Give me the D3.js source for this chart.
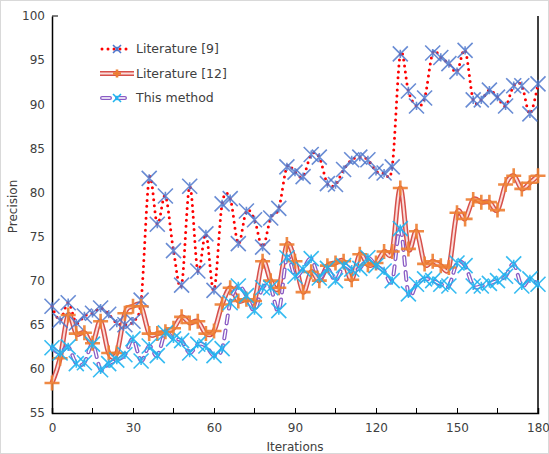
<!DOCTYPE html>
<html>
<head>
<meta charset="utf-8">
<script src="https://cdn.jsdelivr.net/npm/d3@7"></script>
<style>
  body { margin: 0; background: #fff; }
  text { font-family: "DejaVu Sans", Verdana, sans-serif; fill: #404040; }
</style>
</head>
<body>
<div id="chart"></div>
<script>
var svgWidth = 549;
var svgHeight = 454;

var margin = { top: 16, right: 11, bottom: 41, left: 52 };
var width = svgWidth - margin.left - margin.right;
var height = svgHeight - margin.top - margin.bottom;

// data
var iterations = [0, 3, 6, 9, 12, 15, 18, 21, 24, 27, 30, 33, 36, 39, 42, 45, 48, 51, 54, 57,
  60, 63, 66, 69, 72, 75, 78, 81, 84, 87, 90, 93, 96, 99, 102, 105, 108, 111, 114, 117,
  120, 123, 126, 129, 132, 135, 138, 141, 144, 147, 150, 153, 156, 159, 162, 165, 168, 171, 174, 177, 180];

var literature9 = [67.1, 65.5, 67.5, 65.2, 66.0, 66.3, 66.9, 66.2, 65.2, 65.0,
  65.4, 67.8, 81.6, 76.4, 79.6, 73.4, 69.5, 80.7, 71.1, 75.3,
  68.9, 78.7, 79.3, 74.2, 77.9, 76.9, 73.8, 77.1, 78.2, 82.9,
  82.3, 81.8, 84.3, 84.0, 81.0, 80.9, 82.6, 83.7, 84.0, 83.7,
  82.4, 82.2, 82.9, 95.7, 91.5, 89.8, 90.7, 95.8, 95.3, 94.6,
  93.7, 96.1, 90.5, 90.5, 91.6, 90.8, 89.8, 92.1, 92.1, 88.9, 92.3];

var literature12 = [58.4, 61.2, 66.1, 64.0, 64.1, 62.9, 65.4, 61.8, 61.8, 66.3,
  67.1, 67.1, 64.0, 64.0, 64.2, 64.6, 65.9, 65.2, 65.4, 64.0,
  64.3, 67.3, 69.2, 67.7, 67.9, 67.7, 72.2, 70.0, 69.2, 74.1,
  72.2, 68.7, 71.0, 70.0, 71.7, 72.0, 72.2, 70.1, 73.0, 71.8,
  72.0, 73.3, 73.3, 80.5, 73.6, 75.6, 71.9, 72.2, 71.7, 71.5,
  77.7, 77.0, 79.2, 78.9, 78.9, 78.0, 80.9, 81.9, 80.4, 81.1, 81.9];

var thisMethod = [62.4, 61.8, 62.5, 60.6, 60.7, 62.8, 59.9, 60.6, 61.0, 61.6,
  63.4, 60.9, 62.6, 61.5, 64.1, 63.4, 63.2, 61.8, 62.8, 62.6,
  61.5, 62.3, 67.5, 69.4, 68.3, 66.6, 69.2, 69.2, 66.6, 72.6,
  70.5, 71.3, 72.5, 70.3, 71.4, 70.0, 71.7, 71.3, 71.4, 72.6,
  71.7, 71.1, 70.0, 75.9, 68.5, 69.6, 70.2, 70.0, 69.6, 69.4,
  72.0, 71.7, 69.4, 69.4, 69.7, 70.0, 70.5, 71.9, 69.4, 70.2, 69.6];

var xTicks = [0, 30, 60, 90, 120, 150, 180];
var xMinorTicks = [15, 45, 75, 105, 135, 165];
var yTicks = [55, 60, 65, 70, 75, 80, 85, 90, 95, 100];
var seriesNames = ["Literature [9]", "Literature [12]", "This method"];

var svg = d3.select("#chart")
  .append("svg")
  .attr("width", svgWidth)
  .attr("height", svgHeight);

// chart area border
svg.append("rect")
  .attr("x", 0.5).attr("y", 0.5)
  .attr("width", svgWidth - 1).attr("height", svgHeight - 1)
  .attr("fill", "#fff")
  .attr("stroke", "#d9d9d9");

var chartGroup = svg.append("g")
  .attr("transform", `translate(${margin.left}, ${margin.top})`);

var xScale = d3.scaleLinear().domain([0, 180]).range([0, width]);
var yScale = d3.scaleLinear().domain([55, 100]).range([height, 0]);

// axes
var bottomAxis = d3.axisBottom(xScale).tickValues(xTicks).tickSize(-5).tickPadding(10);
var leftAxis = d3.axisLeft(yScale).tickValues(yTicks).tickSize(0).tickPadding(7);

var xAxisG = chartGroup.append("g")
  .attr("transform", `translate(0, ${height})`)
  .call(bottomAxis);
xAxisG.selectAll(".tick").filter(d => d === 0 || d === 180).select("line").remove();
chartGroup.append("g")
  .attr("transform", `translate(0, ${height})`)
  .selectAll("line")
  .data(xMinorTicks)
  .enter()
  .append("line")
  .attr("x1", d => xScale(d)).attr("x2", d => xScale(d))
  .attr("y1", 0).attr("y2", -5)
  .attr("stroke", "#000");

var yAxisG = chartGroup.append("g").call(leftAxis);

[xAxisG, yAxisG].forEach(function(g) {
  g.select(".domain").attr("stroke", "#000").attr("stroke-width", 1.5);
  g.selectAll("text").attr("font-size", 12).attr("fill", "#404040")
    .attr("font-family", "DejaVu Sans, Verdana, sans-serif");
  g.selectAll(".tick line").attr("stroke", "#000");
});

// top tick at 100 and right border
chartGroup.append("line")
  .attr("x1", 0).attr("x2", 6)
  .attr("y1", yScale(100)).attr("y2", yScale(100))
  .attr("stroke", "#000");
chartGroup.append("line")
  .attr("x1", width).attr("x2", width)
  .attr("y1", yScale(100)).attr("y2", height)
  .attr("stroke", "#000").attr("stroke-width", 1.5);

// axis titles
chartGroup.append("text")
  .attr("transform", "rotate(-90)")
  .attr("x", -(height / 2) + 8)
  .attr("y", -35)
  .attr("text-anchor", "middle")
  .attr("font-size", 12)
  .text("Precision");

chartGroup.append("text")
  .attr("x", width / 2)
  .attr("y", height + 38)
  .attr("text-anchor", "middle")
  .attr("font-size", 12)
  .text("Iterations");

// lines
var line = d3.line()
  .x((d, i) => xScale(iterations[i]))
  .y(d => yScale(d))
  .curve(d3.curveCardinal.tension(0));

function starPath(s) {
  return `M${-s},${-s}L${s},${s}M${-s},${s}L${s},${-s}M0,${-s * 0.55}L0,${s * 0.55}`;
}
function plusPath(s) {
  return `M${-s},0L${s},0M0,${-s}L0,${s}`;
}

// Literature [9]
chartGroup.append("path")
  .attr("d", line(literature9))
  .attr("fill", "none")
  .attr("stroke", "#ff0000")
  .attr("stroke-width", 3)
  .attr("stroke-linecap", "round")
  .attr("stroke-dasharray", "0 6");

// Literature [12]
chartGroup.append("path")
  .attr("d", line(literature12))
  .attr("fill", "none")
  .attr("stroke", "#d6504b")
  .attr("stroke-width", 5);
chartGroup.append("path")
  .attr("d", line(literature12))
  .attr("fill", "none")
  .attr("stroke", "#fadcda")
  .attr("stroke-width", 2);

// This method
chartGroup.append("path")
  .attr("d", line(thisMethod))
  .attr("fill", "none")
  .attr("stroke", "#8a5cc4")
  .attr("stroke-width", 4)
  .attr("stroke-linecap", "round")
  .attr("stroke-dasharray", "8 7");
chartGroup.append("path")
  .attr("d", line(thisMethod))
  .attr("fill", "none")
  .attr("stroke", "#fff")
  .attr("stroke-width", 1.4)
  .attr("stroke-linecap", "round")
  .attr("stroke-dasharray", "8 7");

// markers
chartGroup.append("g").selectAll("path")
  .data(literature9)
  .enter()
  .append("path")
  .attr("transform", (d, i) => `translate(${xScale(iterations[i])}, ${yScale(d)})`)
  .attr("d", starPath(7.5))
  .attr("fill", "none")
  .attr("stroke", "#4f78cc")
  .attr("stroke-opacity", 0.85)
  .attr("stroke-width", 1.6);

chartGroup.append("g").selectAll("path")
  .data(literature12)
  .enter()
  .append("path")
  .attr("transform", (d, i) => `translate(${xScale(iterations[i])}, ${yScale(d)})`)
  .attr("d", plusPath(7.5))
  .attr("fill", "none")
  .attr("stroke", "#ed7d31")
  .attr("stroke-opacity", 0.9)
  .attr("stroke-width", 2.6);

chartGroup.append("g").selectAll("path")
  .data(thisMethod)
  .enter()
  .append("path")
  .attr("transform", (d, i) => `translate(${xScale(iterations[i])}, ${yScale(d)})`)
  .attr("d", starPath(7.5))
  .attr("fill", "none")
  .attr("stroke", "#1fb4ef")
  .attr("stroke-opacity", 0.9)
  .attr("stroke-width", 1.6);

// legend
var legend = svg.append("g").attr("transform", "translate(100, 49)");
var legendRows = legend.selectAll("g")
  .data(seriesNames)
  .enter()
  .append("g")
  .attr("transform", (d, i) => `translate(0, ${i * 24.5})`);

legendRows.each(function(d, i) {
  var g = d3.select(this);
  if (i === 0) {
    g.append("line").attr("x1", 2).attr("x2", 32).attr("y1", 0).attr("y2", 0)
      .attr("stroke", "#ff0000").attr("stroke-width", 3)
      .attr("stroke-linecap", "round").attr("stroke-dasharray", "0 6");
    g.append("path").attr("transform", "translate(17,0)").attr("d", starPath(4))
      .attr("fill", "none").attr("stroke", "#4f78cc").attr("stroke-width", 1.6);
  } else if (i === 1) {
    g.append("line").attr("x1", 0).attr("x2", 34).attr("y1", 0).attr("y2", 0)
      .attr("stroke", "#d6504b").attr("stroke-width", 5);
    g.append("line").attr("x1", 0).attr("x2", 34).attr("y1", 0).attr("y2", 0)
      .attr("stroke", "#fadcda").attr("stroke-width", 2);
    g.append("path").attr("transform", "translate(17,0)").attr("d", plusPath(4))
      .attr("fill", "none").attr("stroke", "#ed7d31").attr("stroke-width", 2.6);
  } else {
    g.append("line").attr("x1", 2).attr("x2", 32).attr("y1", 0).attr("y2", 0)
      .attr("stroke", "#8a5cc4").attr("stroke-width", 4)
      .attr("stroke-linecap", "round").attr("stroke-dasharray", "8 7");
    g.append("line").attr("x1", 2).attr("x2", 32).attr("y1", 0).attr("y2", 0)
      .attr("stroke", "#fff").attr("stroke-width", 1.4)
      .attr("stroke-linecap", "round").attr("stroke-dasharray", "8 7");
    g.append("path").attr("transform", "translate(17,0)").attr("d", starPath(4))
      .attr("fill", "none").attr("stroke", "#1fb4ef").attr("stroke-width", 1.6);
  }
  g.append("text")
    .attr("x", 36)
    .attr("y", 0)
    .attr("dy", "0.35em")
    .attr("font-size", 12.5)
    .text(d);
});
</script>
</body>
</html>
